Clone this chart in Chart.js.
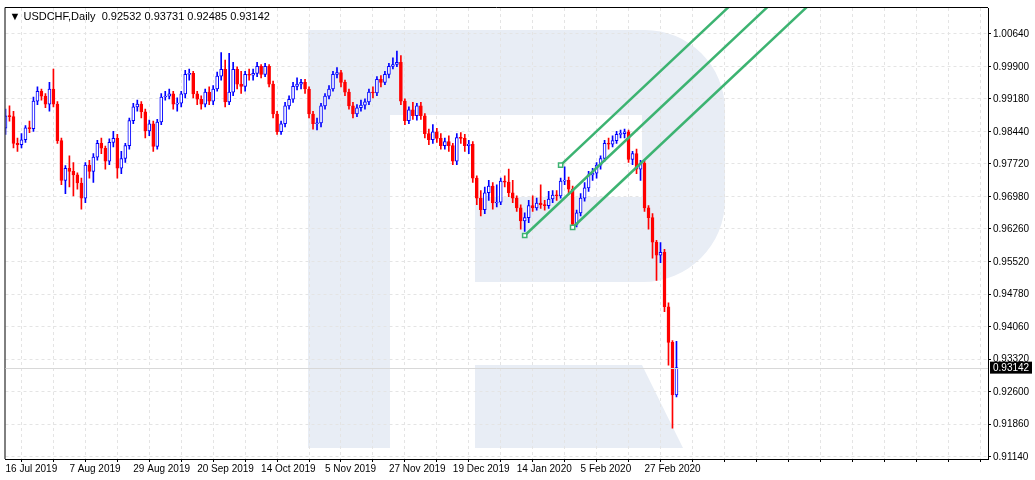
<!DOCTYPE html>
<html>
<head>
<meta charset="utf-8">
<script src="https://cdn.jsdelivr.net/npm/chart.js@4"></script>
<style>
  html, body { margin: 0; padding: 0; background: #fff; }
  #wrap { width: 1035px; height: 480px; }
</style>
</head>
<body>
<div id="wrap"><canvas id="chart"></canvas></div>
<script>
// USDCHF daily candles, 16 Jul 2019 .. early Mar 2020
const firstOpen = 0.9852;
const closes = [
  0.9880, 0.9878, 0.9818, 0.9815, 0.9826, 0.9853, 0.9851, 0.9913, 0.9935, 0.9924,
  0.9906, 0.9940, 0.9906, 0.9824, 0.9735, 0.9762, 0.9755, 0.9747, 0.9729, 0.9695,
  0.9769, 0.9755, 0.9787, 0.9818, 0.9807, 0.9778, 0.9820, 0.9829, 0.9762, 0.9784,
  0.9813, 0.9869, 0.9900, 0.9906, 0.9889, 0.9846, 0.9862, 0.9811, 0.9866, 0.9922,
  0.9924, 0.9929, 0.9906, 0.9908, 0.9929, 0.9973, 0.9975, 0.9929, 0.9917, 0.9906,
  0.9933, 0.9913, 0.9940, 0.9969, 0.9984, 0.9911, 0.9933, 0.9984, 0.9951, 0.9946,
  0.9973, 0.9971, 0.9975, 0.9991, 0.9973, 0.9991, 0.9951, 0.9884, 0.9844, 0.9862,
  0.9902, 0.9917, 0.9946, 0.9951, 0.9955, 0.9940, 0.9884, 0.9862, 0.9864, 0.9902,
  0.9924, 0.9940, 0.9973, 0.9977, 0.9955, 0.9933, 0.9902, 0.9884, 0.9898, 0.9904,
  0.9911, 0.9933, 0.9931, 0.9962, 0.9955, 0.9973, 0.9991, 0.9995, 1.0000, 0.9913,
  0.9869, 0.9893, 0.9880, 0.9902, 0.9880, 0.9840, 0.9826, 0.9844, 0.9829, 0.9813,
  0.9822, 0.9813, 0.9778, 0.9831, 0.9829, 0.9813, 0.9816, 0.9740, 0.9695, 0.9669,
  0.9707, 0.9722, 0.9684, 0.9686, 0.9733, 0.9731, 0.9707, 0.9695, 0.9673, 0.9644,
  0.9651, 0.9678, 0.9673, 0.9684, 0.9680, 0.9678, 0.9693, 0.9702, 0.9700, 0.9733,
  0.9735, 0.9715, 0.9636, 0.9662, 0.9695, 0.9718, 0.9747, 0.9751, 0.9769, 0.9784,
  0.9818, 0.9816, 0.9824, 0.9838, 0.9840, 0.9844, 0.9782, 0.9795, 0.9760, 0.9773,
  0.9673, 0.9651, 0.9596, 0.9567, 0.9573, 0.9451, 0.9371, 0.92532, 0.93142
];
const highs = [
  0.9895, 0.9902, 0.9890, 0.9830, 0.9840, 0.9858, 0.9868, 0.9922, 0.9945, 0.9940,
  0.9930, 0.9955, 0.9985, 0.9912, 0.9830, 0.9768, 0.9790, 0.9775, 0.9752, 0.9740,
  0.9775, 0.9780, 0.9795, 0.9825, 0.9830, 0.9812, 0.9828, 0.9845, 0.9838, 0.9800,
  0.9818, 0.9875, 0.9908, 0.9915, 0.9912, 0.9895, 0.9870, 0.9868, 0.9872, 0.9930,
  0.9935, 0.9940, 0.9935, 0.9920, 0.9935, 0.9982, 0.9985, 0.9980, 0.9935, 0.9925,
  0.9940, 0.9945, 0.9948, 0.9978, 1.0022, 1.0005, 1.0020, 1.0000, 0.9990, 0.9980,
  0.9980, 0.9985, 0.9985, 1.0000, 0.9995, 0.9998, 0.9995, 0.9958, 0.9890, 0.9868,
  0.9910, 0.9925, 0.9955, 0.9965, 0.9962, 0.9962, 0.9945, 0.9890, 0.9875, 0.9908,
  0.9930, 0.9948, 0.9980, 0.9988, 0.9982, 0.9960, 0.9940, 0.9910, 0.9905, 0.9915,
  0.9918, 0.9940, 0.9945, 0.9968, 0.9970, 0.9980, 0.9998, 1.0010, 1.0025, 1.0015,
  0.9918, 0.9900, 0.9910, 0.9908, 0.9910, 0.9885, 0.9850, 0.9860, 0.9852, 0.9840,
  0.9830, 0.9835, 0.9818, 0.9840, 0.9842, 0.9838, 0.9825, 0.9822, 0.9745, 0.9712,
  0.9720, 0.9735, 0.9730, 0.9725, 0.9740, 0.9745, 0.9760, 0.9735, 0.9700, 0.9680,
  0.9662, 0.9690, 0.9700, 0.9695, 0.9725, 0.9690, 0.9710, 0.9712, 0.9712, 0.9740,
  0.9765, 0.9742, 0.9722, 0.9668, 0.9705, 0.9730, 0.9755, 0.9762, 0.9775, 0.9790,
  0.9825, 0.9830, 0.9835, 0.9845, 0.9848, 0.9850, 0.9848, 0.9800, 0.9805, 0.9780,
  0.9778, 0.9678, 0.9660, 0.9600, 0.9595, 0.9580, 0.9460, 0.9375, 0.93731
];
const lows = [
  0.9838, 0.9868, 0.9808, 0.9800, 0.9808, 0.9820, 0.9842, 0.9845, 0.9905, 0.9915,
  0.9898, 0.9890, 0.9900, 0.9818, 0.9725, 0.9705, 0.9720, 0.9700, 0.9715, 0.9670,
  0.9685, 0.9740, 0.9730, 0.9780, 0.9795, 0.9760, 0.9770, 0.9810, 0.9740, 0.9750,
  0.9775, 0.9805, 0.9862, 0.9890, 0.9875, 0.9830, 0.9835, 0.9800, 0.9805, 0.9860,
  0.9915, 0.9918, 0.9895, 0.9890, 0.9900, 0.9920, 0.9960, 0.9920, 0.9905, 0.9895,
  0.9900, 0.9905, 0.9905, 0.9935, 0.9960, 0.9900, 0.9905, 0.9925, 0.9940, 0.9930,
  0.9935, 0.9960, 0.9960, 0.9968, 0.9965, 0.9968, 0.9945, 0.9875, 0.9838, 0.9838,
  0.9855, 0.9895, 0.9910, 0.9938, 0.9940, 0.9930, 0.9875, 0.9850, 0.9848, 0.9855,
  0.9895, 0.9918, 0.9935, 0.9965, 0.9945, 0.9925, 0.9895, 0.9875, 0.9878, 0.9890,
  0.9895, 0.9905, 0.9920, 0.9925, 0.9945, 0.9950, 0.9965, 0.9985, 0.9990, 0.9905,
  0.9860, 0.9862, 0.9872, 0.9870, 0.9872, 0.9830, 0.9815, 0.9818, 0.9820, 0.9805,
  0.9805, 0.9800, 0.9770, 0.9770, 0.9818, 0.9800, 0.9795, 0.9730, 0.9680, 0.9655,
  0.9660, 0.9690, 0.9670, 0.9675, 0.9680, 0.9720, 0.9698, 0.9685, 0.9665, 0.9625,
  0.9620, 0.9640, 0.9665, 0.9668, 0.9672, 0.9668, 0.9672, 0.9685, 0.9690, 0.9695,
  0.9725, 0.9705, 0.9628, 0.9630, 0.9655, 0.9688, 0.9710, 0.9735, 0.9740, 0.9760,
  0.9778, 0.9805, 0.9810, 0.9818, 0.9830, 0.9830, 0.9775, 0.9770, 0.9750, 0.9735,
  0.9665, 0.9625, 0.9560, 0.9510, 0.9550, 0.9440, 0.9320, 0.9178, 0.92485
];
const opens = closes.map((c, i) => (i === 0 ? firstOpen : closes[i - 1]));

const dateLabels = ['16 Jul 2019', '7 Aug 2019', '29 Aug 2019', '20 Sep 2019', '14 Oct 2019',
  '5 Nov 2019', '27 Nov 2019', '19 Dec 2019', '14 Jan 2020', '5 Feb 2020', '27 Feb 2020'];
const yTicks = [0.91140, 0.91860, 0.92600, 0.93320, 0.94060, 0.94780, 0.95520,
  0.96260, 0.96980, 0.97720, 0.98440, 0.99180, 0.99900, 1.00640];
const slotCount = 247;
const lastPrice = 0.93142;

// channel lines: [start index, start price, end index, end price]
const channels = [
  [139, 0.9769, 195, 1.0242],
  [130, 0.9611, 200, 1.0202],
  [142, 0.9629, 205, 1.0161]
];

const UP = '#0000ff', DOWN = '#ff0000', GREEN = '#3cb371';
const slots = Array.from({ length: slotCount }, (_, i) => i);
const up = closes.map((c, i) => c >= opens[i]);

const watermark = {
  id: 'watermark',
  beforeDraw(chart) {
    const ctx = chart.ctx;
    ctx.save();
    ctx.fillStyle = '#e8edf5';
    ctx.beginPath();
    ctx.moveTo(308, 30);
    ctx.lineTo(645, 30);
    ctx.arcTo(725, 30, 725, 110, 80);
    ctx.lineTo(725, 200);
    ctx.arcTo(725, 282, 645, 282, 82);
    ctx.lineTo(475, 282);
    ctx.lineTo(475, 197);
    ctx.lineTo(390, 197);
    ctx.lineTo(390, 448);
    ctx.lineTo(308, 448);
    ctx.closePath();
    ctx.fill();
    ctx.beginPath();
    ctx.moveTo(475, 365);
    ctx.lineTo(642, 365);
    ctx.lineTo(683, 448);
    ctx.lineTo(475, 448);
    ctx.closePath();
    ctx.fill();
    ctx.fillStyle = '#ffffff';
    ctx.fillRect(390, 115, 252, 82);
    ctx.restore();
  },
  afterDraw(chart) {
    const ctx = chart.ctx;
    const a = chart.chartArea;
    const y = chart.scales.y.getPixelForValue(lastPrice);
    ctx.save();
    ctx.strokeStyle = '#000';
    ctx.lineWidth = 1;
    ctx.beginPath();
    ctx.moveTo(a.left - 0.5, a.bottom);
    ctx.lineTo(a.left - 0.5, a.top - 0.5);
    ctx.lineTo(a.right, a.top - 0.5);
    ctx.stroke();
    ctx.strokeStyle = '#d8d8d8';
    ctx.beginPath();
    ctx.moveTo(a.left, Math.round(y) + 0.5);
    ctx.lineTo(a.right, Math.round(y) + 0.5);
    ctx.stroke();
    ctx.fillStyle = '#000';
    ctx.fillRect(a.right + 2, y - 6, 42, 12);
    ctx.fillStyle = '#fff';
    ctx.font = '10px "Liberation Sans"';
    ctx.textBaseline = 'middle';
    ctx.fillText(lastPrice.toFixed(5), a.right + 5, y + 0.5);
    ctx.fillStyle = '#000';
    ctx.font = '11px "Liberation Sans"';
    ctx.fillText('\u25BC USDCHF,Daily  0.92532 0.93731 0.92485 0.93142', a.left + 4, a.top + 9);
    ctx.restore();
  }
};

const channelSets = channels.map(c => ({
  type: 'line',
  data: [{ x: c[0], y: c[1] }, { x: c[2], y: c[3] }],
  borderColor: GREEN,
  borderWidth: 2.5,
  pointStyle: 'rect',
  pointRadius: [3, 0],
  pointBackgroundColor: '#fff',
  pointBorderColor: GREEN,
  pointBorderWidth: 1.5,
  order: 0
}));

new Chart(document.getElementById('chart'), {
  type: 'bar',
  data: {
    labels: slots,
    datasets: [
      {
        data: closes.map((c, i) => [lows[i], highs[i]]),
        backgroundColor: up.map(u => (u ? UP : DOWN)),
        barThickness: 1,
        grouped: false,
        order: 2
      },
      {
        data: closes.map((c, i) => [opens[i], c]),
        backgroundColor: up.map(u => (u ? '#ffffff' : DOWN)),
        borderColor: up.map(u => (u ? UP : DOWN)),
        borderWidth: 1,
        borderSkipped: false,
        barThickness: 3,
        minBarLength: 1,
        grouped: false,
        order: 1
      },
      ...channelSets
    ]
  },
  plugins: [watermark],
  options: {
    responsive: true,
    maintainAspectRatio: false,
    animation: false,
    layout: { padding: { left: 3, top: 3, right: 0, bottom: 0 } },
    plugins: { legend: { display: false }, tooltip: { enabled: false } },
    scales: {
      x: {
        offset: false,
        grid: { color: '#e4e4e4', tickColor: '#000', tickLength: 3, drawOnChartArea: true },
        border: { color: '#000', dash: [3, 3] },
        ticks: {
          autoSkip: false,
          maxRotation: 0,
          align: 'start',
          padding: 1,
          color: '#000',
          font: { family: 'Liberation Sans', size: 10 },
          callback: (v, i) => (i % 8 === 0 ? (i % 16 === 0 ? (dateLabels[i / 16] || '') : '') : null)
        },
        afterFit: s => { s.height = 21; }
      },
      y: {
        position: 'right',
        min: 0.9109,
        max: 1.0122,
        grid: { color: '#e4e4e4', tickColor: '#000', tickLength: 3 },
        border: { color: '#000', dash: [3, 3] },
        afterBuildTicks: s => { s.ticks = yTicks.map(v => ({ value: v })); },
        ticks: {
          color: '#000',
          padding: 2,
          font: { family: 'Liberation Sans', size: 10 },
          callback: v => Number(v).toFixed(5)
        },
        afterFit: s => { s.width = 47; }
      }
    }
  }
});
</script>
</body>
</html>
